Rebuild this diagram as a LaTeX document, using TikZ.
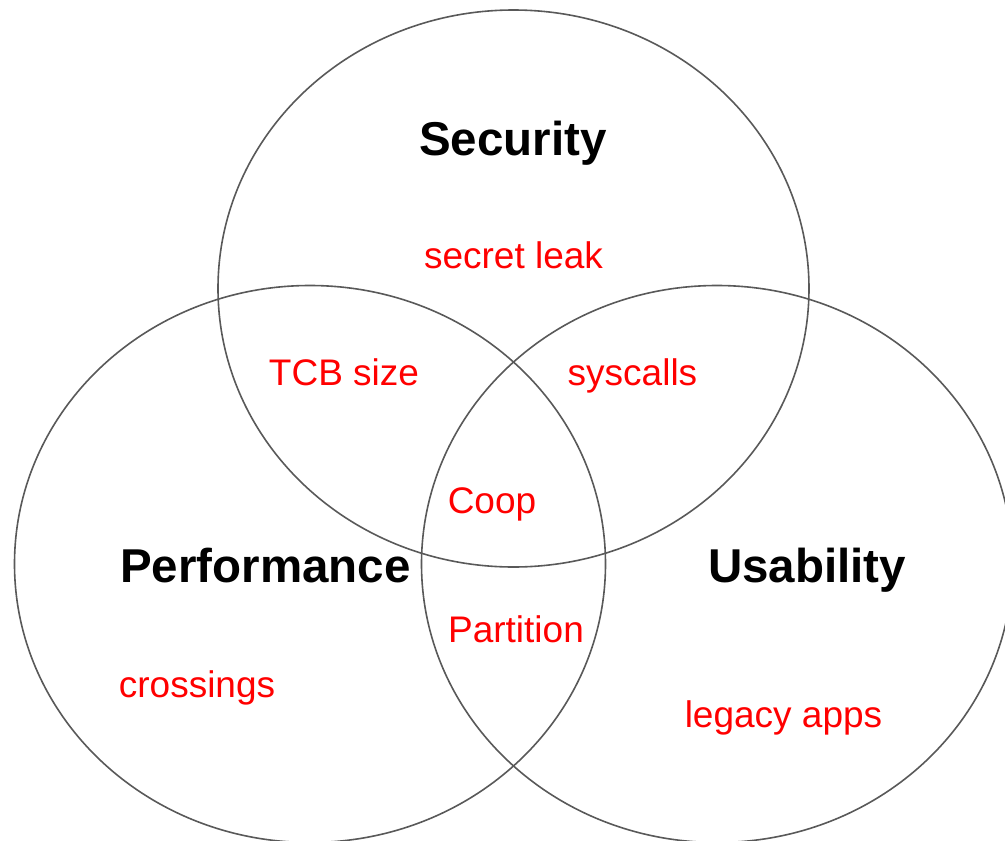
\documentclass[tikz,border=0pt]{standalone}
\usepackage{fontspec}
\setmainfont{Liberation Sans}

\begin{document}
\begin{tikzpicture}[x=1pt,y=-1pt,
    ring/.style={draw=black!65, line width=1.6pt},
    area/.style={font=\fontsize{47.5}{57}\selectfont\bfseries, anchor=base, inner sep=0pt},
    issue/.style={font=\fontsize{37}{44}\selectfont, text=red, anchor=base, inner sep=0pt}]
      \useasboundingbox (0,0) rectangle (1005,841);
      \clip (0,0) rectangle (1005,841);
      % the three sets
      \draw[ring] (513.5,288.5) ellipse [x radius=295.5pt, y radius=278.5pt];
      \draw[ring] (310,564) ellipse [x radius=295.5pt, y radius=278.5pt];
      \draw[ring] (717,564) ellipse [x radius=295.5pt, y radius=278.5pt];
      % set names
      \node[area] (sec) at (513,155) {Security};
      \node[area] (perf) at (265.5,582) {Performance};
      \node[area] (use) at (807,582) {Usability};
      % issues
      \node[issue] (leak) at (513.5,268) {secret leak};
      \node[issue] (tcb) at (344,385) {TCB size};
      \node[issue] (sys) at (632.5,385) {syscalls};
      \node[issue] (coop) at (492,513) {Coop};
      \node[issue] (part) at (516,642) {Partition};
      \node[issue] (cross) at (197,697) {crossings};
      \node[issue] (legacy) at (783.5,727) {legacy apps};
    \end{tikzpicture}
\end{document}
